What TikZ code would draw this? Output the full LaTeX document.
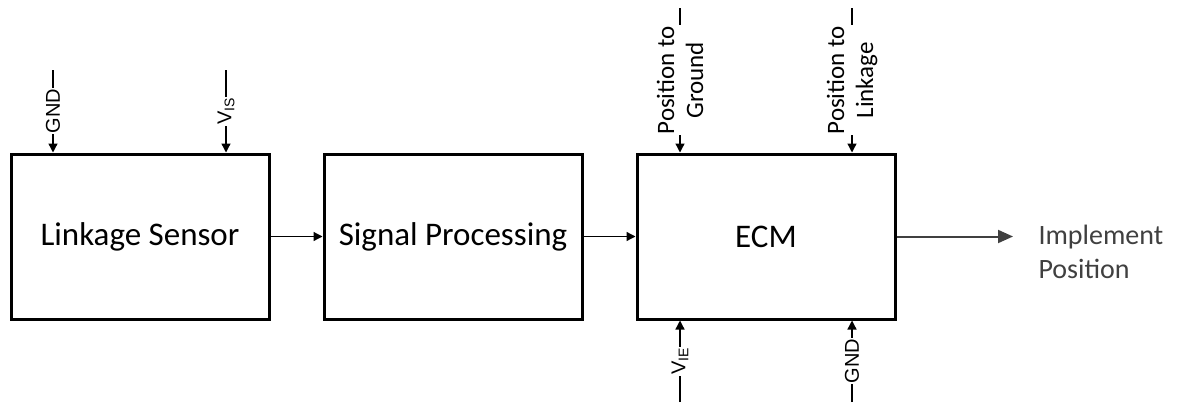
\documentclass[tikz,border=0pt]{standalone}
\usepackage{fontspec}
\setmainfont{Carlito}
\newfontfamily\pinfont{Liberation Sans}
\usetikzlibrary{arrows.meta}

\definecolor{outgray}{RGB}{64,64,64}

\tikzset{
    block/.style={draw,line width=3pt,minimum width=258pt,minimum height=165pt,inner sep=0pt,font=\fontsize{33}{40}\selectfont},
    wire/.style={->,line width=1.3pt},
    pinlabel/.style={fill=white,inner sep=1pt,rotate=90,font=\pinfont\fontsize{20}{23}\selectfont},
    poslabel/.style={fill=white,inner sep=1pt,rotate=90,align=center,font=\fontsize{25}{29}\selectfont},
}

\begin{document}
\begin{tikzpicture}[x=1pt,y=-1pt,>={Triangle[length=9pt,width=9pt]}]
    \useasboundingbox (0,0) rectangle (1178,402);

    \node (sensor) at (140,236.5) [block] {Linkage Sensor};
    \node (proc)   at (453,236.5) [block] {Signal Processing};
    \node (ecm)    at (766,236.5) [block] {ECM};

    \coordinate (gndS)  at (53,70);
    \coordinate (vis)   at (226,70);
    \coordinate (posG)  at (680,8);
    \coordinate (posL)  at (852,8);
    \coordinate (vie)   at (680,402);
    \coordinate (gndE)  at (852,402);
    \coordinate (out)   at (1013,236.5);

    \draw[wire] (gndS) to node[pinlabel] {GND} (gndS |- sensor.north);
    \draw[wire] (vis)  to node[pinlabel] {V\textsubscript{IS}} (vis |- sensor.north);

    \draw[wire] (sensor) to (proc);
    \draw[wire] (proc)   to (ecm);

    \draw[wire] (posG) to node[poslabel] {Position to\\Ground} (posG |- ecm.north);
    \draw[wire] (posL) to node[poslabel] {Position to\\Linkage} (posL |- ecm.north);
    \draw[wire] (vie)  to node[pinlabel] {V\textsubscript{IE}} (vie |- ecm.south);
    \draw[wire] (gndE) to node[pinlabel] {GND} (gndE |- ecm.south);

    % output
    \draw[-{Triangle[length=15pt,width=13pt]},line width=2pt,color=outgray] (ecm) to (out);
    \node (implement) at (1035,252) [anchor=west,align=left,text=outgray,font=\fontsize{28}{34}\selectfont] {Implement\\Position};

\end{tikzpicture}
\end{document}
